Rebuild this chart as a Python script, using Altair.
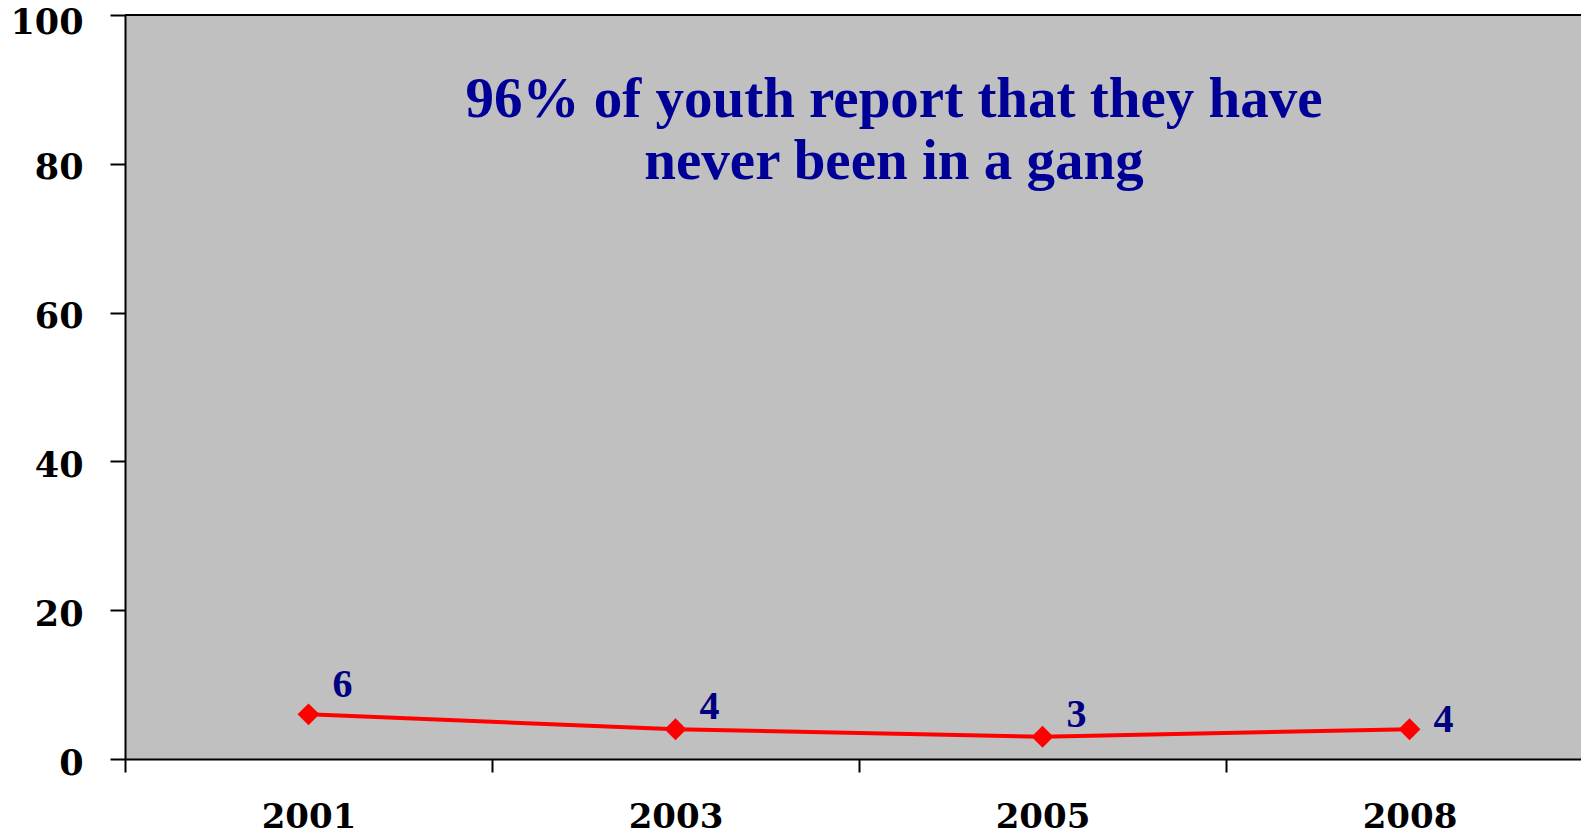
import altair as alt
import pandas as pd

years = ["2001", "2003", "2005", "2008"]
values = [6, 4, 3, 4]
title_lines = ["96% of youth report that they have", "never been in a gang"]

df = pd.DataFrame({"year": years, "value": values})

FONT = "Liberation Serif"
AXFONT = "DejaVu Serif"
W, H = 1468, 744

x_enc = alt.X(
    "year:N",
    sort=years,
    scale=alt.Scale(paddingInner=0, paddingOuter=0),
    axis=alt.Axis(
        title=None, labelAngle=0, labelFont=AXFONT, labelFontSize=34,
        labelFontWeight="bold", labelColor="black", labelPadding=28,
        tickBand="extent", tickSize=13, tickWidth=2, tickColor="black",
        domainColor="black", domainWidth=2, grid=False,
    ),
)
y_enc = alt.Y(
    "value:Q",
    scale=alt.Scale(domain=[0, 100], nice=False),
    axis=alt.Axis(
        title=None, values=[0, 20, 40, 60, 80, 100], labelFont=AXFONT,
        labelFontSize=35, labelFontWeight="bold", labelColor="black",
        labelPadding=27,
        labelOffset={"condition": {"test": "datum.value == 100", "value": 7}, "value": 4},
        tickSize=15, tickWidth=2,
        tickColor="black", domainColor="black", domainWidth=2, grid=False,
    ),
)

base = alt.Chart(df).encode(x=x_enc, y=y_enc)

line = base.mark_line(color="#FF0000", strokeWidth=4)
pts = base.mark_point(shape="diamond", size=480, filled=True, color="#FF0000", opacity=1)

label_style = dict(font=FONT, fontSize=40, fontWeight="bold", color="#000080",
                   align="center", baseline="middle", dx=34)
lab1 = base.transform_filter(alt.datum.year == "2001").mark_text(dy=-29, **label_style).encode(text="value:Q")
lab2 = base.transform_filter((alt.datum.year == "2003") | (alt.datum.year == "2005")).mark_text(dy=-22, **label_style).encode(text="value:Q")
lab3 = base.transform_filter(alt.datum.year == "2008").mark_text(dy=-9, **label_style).encode(text="value:Q")

title = alt.Chart(pd.DataFrame({"t": [title_lines]})).mark_text(
    font=FONT, fontSize=57, fontWeight="bold", color="#000096",
    align="center", baseline="alphabetic", lineHeight=62,
).encode(x=alt.value(769), y=alt.value(102), text="t")

top_border = alt.Chart(pd.DataFrame({"a": [0]})).mark_rule(
    color="black", strokeWidth=2
).encode(x=alt.value(0), x2=alt.value(W), y=alt.value(0))

chart = alt.layer(line, pts, lab1, lab2, lab3, title, top_border).properties(
    width=W, height=H,
    autosize=alt.AutoSizeParams(type="none"),
    padding={"left": 117, "top": 7, "right": -12, "bottom": 72},
).configure_view(fill="#C0C0C0", strokeWidth=0)

chart.save("out.html", embed_options={"renderer": "svg", "actions": False})
